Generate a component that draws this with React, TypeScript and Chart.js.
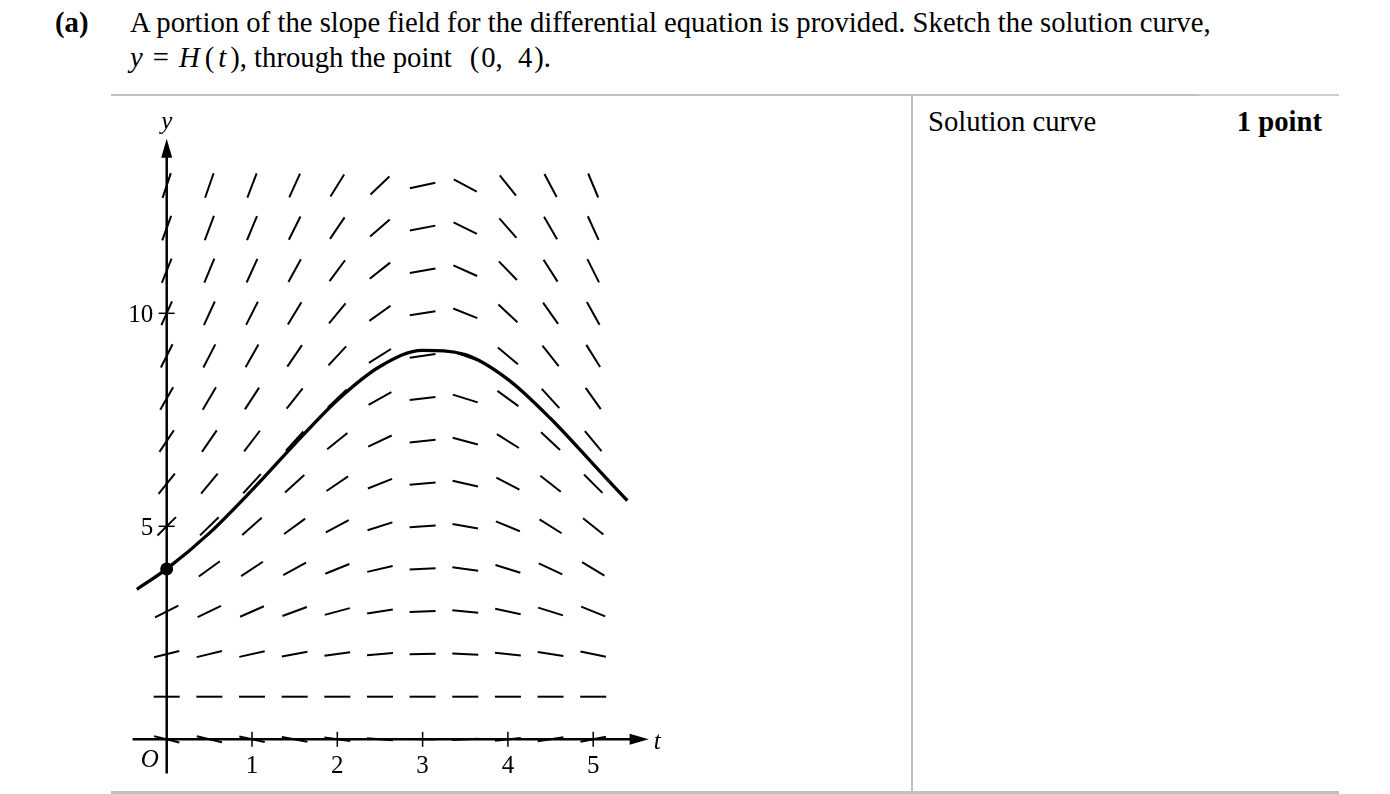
import React, { useEffect, useRef } from "react";
import { Chart, registerables } from "chart.js";

Chart.register(...registerables);

// ---- data ----
const T_VALUES = [0, 0.5, 1, 1.5, 2, 2.5, 3, 3.5, 4, 4.5, 5];
const Y_VALUES = [0, 1, 2, 3, 4, 5, 6, 7, 8, 9, 10, 11, 12, 13];

// slope (dy/dt) of each segment, one row per y value, one column per t value
const SLOPES: number[][] = [
  [-0.5, -0.48, -0.44, -0.37, -0.27, -0.16, -0.04, 0.09, 0.21, 0.31, 0.4],
  [0, 0, 0, 0, 0, 0, 0, 0, 0, 0, 0],
  [0.5, 0.48, 0.44, 0.37, 0.27, 0.16, 0.04, -0.09, -0.21, -0.31, -0.4],
  [1.0, 0.97, 0.88, 0.73, 0.54, 0.32, 0.07, -0.18, -0.42, -0.63, -0.8],
  [1.5, 1.45, 1.32, 1.1, 0.81, 0.47, 0.11, -0.27, -0.62, -0.94, -1.2],
  [2.0, 1.94, 1.76, 1.46, 1.08, 0.63, 0.14, -0.36, -0.83, -1.26, -1.6],
  [2.5, 2.42, 2.19, 1.83, 1.35, 0.79, 0.18, -0.45, -1.04, -1.57, -2.0],
  [3.0, 2.91, 2.63, 2.2, 1.62, 0.95, 0.21, -0.53, -1.25, -1.88, -2.4],
  [3.5, 3.39, 3.07, 2.56, 1.89, 1.1, 0.25, -0.62, -1.46, -2.2, -2.8],
  [4.0, 3.88, 3.51, 2.93, 2.16, 1.26, 0.28, -0.71, -1.66, -2.51, -3.2],
  [4.5, 4.36, 3.95, 3.29, 2.43, 1.42, 0.32, -0.8, -1.87, -2.83, -3.6],
  [5.0, 4.84, 4.39, 3.66, 2.7, 1.58, 0.35, -0.89, -2.08, -3.14, -4.0],
  [5.5, 5.33, 4.83, 4.02, 2.97, 1.73, 0.39, -0.98, -2.29, -3.46, -4.41],
  [6.0, 5.81, 5.27, 4.39, 3.24, 1.89, 0.42, -1.07, -2.5, -3.77, -4.81],
];

// solution curve y = H(t)
const CURVE_T = [-0.35, 0, 0.5, 1, 1.5, 2, 2.5, 3, 3.5, 4, 4.5, 5, 5.4];
const CURVE_Y = [3.52, 4.0, 4.84, 5.85, 6.93, 7.96, 8.75, 9.13, 9.03, 8.45, 7.53, 6.46, 5.6];

// marked point
const POINT_T = [0];
const POINT_Y = [4];

// axes
const X_TICKS = [1, 2, 3, 4, 5];
const X_TICK_LABELS = ["1", "2", "3", "4", "5"];
const Y_TICKS = [5, 10];
const Y_TICK_LABELS = ["5", "10"];
const X_AXIS_RANGE = [-0.4, 5.65];
const Y_AXIS_RANGE = [-0.8, 14.1];

const SERIF = "'Liberation Serif', 'Times New Roman', serif";

const axesPlugin = {
  id: "mathAxes",
  beforeDatasetsDraw(chart: any) {
    const { ctx, scales } = chart;
    const sx = scales.x;
    const sy = scales.y;
    const x0 = sx.getPixelForValue(0);
    const y0 = sy.getPixelForValue(0);
    ctx.save();
    ctx.strokeStyle = "#000";
    ctx.fillStyle = "#000";
    ctx.lineWidth = 2.5;
    ctx.lineCap = "butt";

    // y axis
    const yTop = sy.getPixelForValue(Y_AXIS_RANGE[1]);
    const yBot = sy.getPixelForValue(Y_AXIS_RANGE[0]);
    ctx.beginPath();
    ctx.moveTo(x0, yBot);
    ctx.lineTo(x0, yTop + 12);
    ctx.stroke();
    ctx.beginPath();
    ctx.moveTo(x0, yTop);
    ctx.lineTo(x0 - 5.5, yTop + 19);
    ctx.lineTo(x0 + 5.5, yTop + 19);
    ctx.closePath();
    ctx.fill();

    // x axis
    const xLeft = sx.getPixelForValue(X_AXIS_RANGE[0]);
    const xRight = sx.getPixelForValue(X_AXIS_RANGE[1]);
    ctx.beginPath();
    ctx.moveTo(xLeft, y0);
    ctx.lineTo(xRight - 12, y0);
    ctx.stroke();
    ctx.beginPath();
    ctx.moveTo(xRight, y0);
    ctx.lineTo(xRight - 19, y0 - 5.5);
    ctx.lineTo(xRight - 19, y0 + 5.5);
    ctx.closePath();
    ctx.fill();

    // ticks
    ctx.lineWidth = 1.5;
    X_TICKS.forEach((t) => {
      const px = sx.getPixelForValue(t);
      ctx.beginPath();
      ctx.moveTo(px, y0 - 7.5);
      ctx.lineTo(px, y0 + 7.5);
      ctx.stroke();
    });
    Y_TICKS.forEach((v) => {
      const py = sy.getPixelForValue(v);
      ctx.beginPath();
      ctx.moveTo(x0 - 8, py);
      ctx.lineTo(x0 + 8, py);
      ctx.stroke();
    });

    // labels
    ctx.font = `25px ${SERIF}`;
    ctx.textBaseline = "alphabetic";
    ctx.textAlign = "center";
    X_TICKS.forEach((t, i) => {
      ctx.fillText(X_TICK_LABELS[i], sx.getPixelForValue(t), y0 + 33.5);
    });
    ctx.textAlign = "right";
    Y_TICKS.forEach((v, i) => {
      ctx.fillText(Y_TICK_LABELS[i], x0 - 13.5, sy.getPixelForValue(v) + 8.5);
    });
    ctx.font = `italic 25px ${SERIF}`;
    ctx.textAlign = "center";
    ctx.fillText("O", x0 - 17, y0 + 27.5);
    ctx.fillText("y", x0, yTop - 10);
    ctx.textAlign = "left";
    ctx.fillText("t", xRight + 5, y0 + 9.5);
    ctx.restore();
  },
};

function SlopeFieldChart() {
  const ref = useRef<HTMLCanvasElement | null>(null);
  useEffect(() => {
    if (!ref.current) return;
    const segments: any[] = [];
    Y_VALUES.forEach((yv, r) => {
      T_VALUES.forEach((tv, c) => {
        segments.push({ x: tv, y: yv, s: SLOPES[r][c] });
      });
    });
    const curve = CURVE_T.map((t, i) => ({ x: t, y: CURVE_Y[i] }));
    const pts = POINT_T.map((t, i) => ({ x: t, y: POINT_Y[i] }));

    const chart = new Chart(ref.current, {
      type: "scatter",
      data: {
        datasets: [
          {
            data: pts,
            order: 1,
            pointRadius: 6.5,
            pointBackgroundColor: "#000",
            pointBorderColor: "#000",
            pointBorderWidth: 0,
          } as any,
          {
            data: curve,
            order: 2,
            showLine: true,
            borderColor: "#000",
            borderWidth: 3.3,
            pointRadius: 0,
            cubicInterpolationMode: "monotone",
            fill: false,
          } as any,
          {
            data: segments,
            order: 3,
            pointStyle: "line",
            pointRadius: 13,
            pointBorderWidth: 2,
            pointBorderColor: "#000",
            rotation: (ctx: any) => {
              const raw = ctx.raw;
              if (!raw) return 0;
              const c = ctx.chart;
              const sx = c.scales.x;
              const sy = c.scales.y;
              const ppx = sx.getPixelForValue(1) - sx.getPixelForValue(0);
              const ppy = sy.getPixelForValue(0) - sy.getPixelForValue(1);
              return (-Math.atan((raw.s * ppy) / ppx) * 180) / Math.PI;
            },
          } as any,
        ],
      },
      options: {
        animation: false,
        responsive: false,
        events: [],
        layout: { padding: 0, autoPadding: false },
        plugins: {
          legend: { display: false },
          tooltip: { enabled: false },
          title: { display: false },
        },
        scales: {
          x: { type: "linear", min: -0.782, max: 6.252, display: false },
          y: { type: "linear", min: -1.284, max: 15.007, display: false },
        },
      },
      plugins: [axesPlugin],
    });
    return () => chart.destroy();
  }, []);
  return (
    <canvas
      ref={ref}
      width={600}
      height={694}
      style={{ position: "absolute", left: 100, top: 100, width: 600, height: 694 }}
    />
  );
}

export default function App() {
  const text: React.CSSProperties = {
    position: "absolute",
    fontFamily: SERIF,
    fontSize: 28.7,
    lineHeight: "28.7px",
    whiteSpace: "nowrap",
    color: "#000",
  };
  const rule = "#c0c0c0";
  return (
    <div
      style={{
        position: "absolute",
        left: 0,
        top: 0,
        width: 1390,
        height: 794,
        background: "#fff",
        overflow: "hidden",
      }}
    >
      <div style={{ ...text, left: 55, top: 8, fontWeight: "bold" }}>(a)</div>
      <div style={{ ...text, left: 130, top: 8 }}>
        A portion of the slope field for the differential equation is provided. Sketch the solution curve,
      </div>
      <div style={{ ...text, left: 130, top: 43 }}>
        <i>y</i>
        <span style={{ margin: "0 10px" }}>=</span>
        <i>H</i>
        <span style={{ marginLeft: 5 }}>(</span>
        <i style={{ margin: "0 4px" }}>t</i>
        <span>)</span>, through the point
        <span style={{ marginLeft: 18 }}>(</span>
        <span style={{ marginLeft: 2 }}>0,</span>
        <span style={{ marginLeft: 8 }}> 4</span>
        <span style={{ marginLeft: 2 }}>)</span>.
      </div>
      <div style={{ position: "absolute", left: 111, top: 94, width: 1088, height: 2, background: rule }} />
      <div style={{ position: "absolute", left: 1199, top: 94, width: 140, height: 2, background: "#cfcfcf" }} />
      <div style={{ position: "absolute", left: 911, top: 95, width: 2, height: 697, background: rule }} />
      <div style={{ position: "absolute", left: 111, top: 791, width: 1228, height: 3, background: rule }} />
      <div style={{ ...text, left: 928, top: 107 }}>Solution curve</div>
      <div style={{ ...text, left: 1202, top: 107, width: 120, textAlign: "right", fontWeight: "bold" }}>
        1 point
      </div>
      <SlopeFieldChart />
    </div>
  );
}
